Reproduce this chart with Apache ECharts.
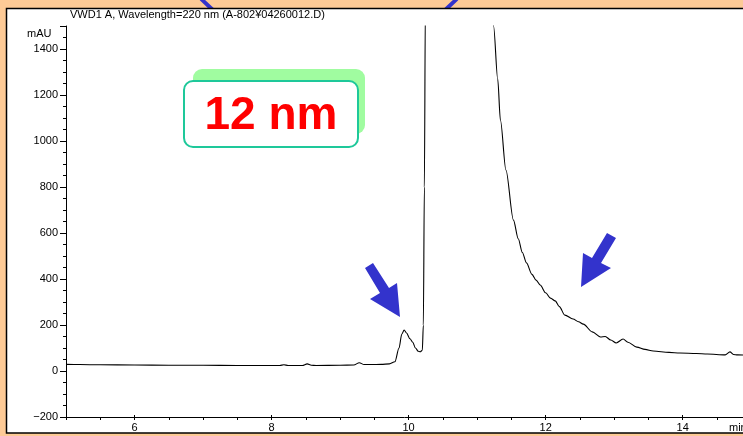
<!DOCTYPE html>
<html>
<head>
<meta charset="utf-8">
<script src="https://cdn.jsdelivr.net/npm/echarts@6/dist/echarts.min.js"></script>
<style>
  html, body { margin: 0; padding: 0; background: #fdca96; }
  #chart { width: 743px; height: 436px; }
</style>
</head>
<body>
<div id="chart"></div>
<script>
// Retention time (min) and detector signal (mAU) of the chromatogram trace
const retentionTime = [
  5.0, 5.2, 5.5, 6.0, 6.5, 7.0, 7.5, 8.0, 8.12, 8.18, 8.24, 8.45, 8.52, 8.58, 8.65,
  9.0, 9.2, 9.28, 9.35, 9.45, 9.6, 9.72, 9.8, 9.86, 9.9, 9.935, 9.97, 10.02, 10.06,
  10.1, 10.14, 10.17, 10.2, 10.215, 10.23, 10.245, 10.27, 10.4, 10.7, 11.0, 11.1,
  11.2, 11.24, 11.3, 11.34, 11.42, 11.53, 11.6, 11.66, 11.72, 11.8, 11.86, 11.92,
  12.0, 12.07, 12.14, 12.2, 12.28, 12.4, 12.48, 12.55, 12.68, 12.8, 12.87, 12.95,
  13.03, 13.13, 13.2, 13.33, 13.45, 13.57, 13.8, 13.96, 14.2, 14.36, 14.62, 14.69,
  14.74, 14.8, 15.0
];
const signal = [
  29, 28, 27, 26, 25, 25, 24, 24, 24, 27, 24, 24, 31, 25, 24,
  25, 26, 36, 28, 28, 29, 31, 40, 100, 160, 178, 165, 140, 125,
  100, 86, 84, 90, 200, 800, 1600, 2300, 2900, 3000, 2500, 2100,
  1700, 1500, 1270, 1090, 874, 656, 575, 515, 470, 420, 395, 374,
  340, 317, 305, 280, 243, 226, 214, 204, 170, 148, 150, 135,
  122, 139, 125, 104, 94, 87, 81, 78, 76, 74, 70, 83,
  72, 70, 69
];

// Axis ticks and labels
const xLabelValues = [6, 8, 10, 12, 14];
const yLabelValues = [-200, 0, 200, 400, 600, 800, 1000, 1200, 1400];
const yMajorTicks = [-200, 0, 200, 400, 600, 800, 1000, 1200, 1400, 1500];

const titleText = 'VWD1 A, Wavelength=220 nm (A-802\u00a504260012.D)';
const yUnit = 'mAU';
const xUnit = 'min';
const calloutText = '12 nm';

const FONT = '"Liberation Sans", Arial, sans-serif';
// the time axis runs on past the right edge of the page
const X_MIN = 5, X_MAX = 14.88, Y_MIN = -200, Y_MAX = 1500;

const chart = echarts.init(document.getElementById('chart'), null, { renderer: 'canvas' });

const points = retentionTime.map((t, i) => [t, signal[i]]);

const axisText = { color: '#000', fontSize: 11, fontFamily: FONT };
const plainNumber = v => String(v).replace('-', '\u2212');

const option = {
  backgroundColor: '#fdca96',
  animation: false,
  grid: { left: 66, right: 0, top: 26, bottom: 19, containLabel: false },
  xAxis: [
    {
      type: 'value', min: X_MIN, max: X_MAX, interval: 0.5,
      position: 'bottom',
      axisLine: { show: true, onZero: false, lineStyle: { color: '#000', width: 1 } },
      axisTick: { show: true, length: 3, lineStyle: { color: '#000' } },
      axisLabel: { ...axisText, margin: 5, customValues: xLabelValues, formatter: plainNumber },
      splitLine: { show: false }
    },
    {
      type: 'value', min: X_MIN, max: X_MAX,
      position: 'bottom',
      axisLine: { show: false, onZero: false },
      axisTick: { show: true, inside: true, length: 2, customValues: xLabelValues, lineStyle: { color: '#000' } },
      axisLabel: { show: false },
      splitLine: { show: false }
    }
  ],
  yAxis: [
    {
      type: 'value', min: Y_MIN, max: Y_MAX, interval: 50,
      position: 'left',
      axisLine: { show: true, onZero: false, lineStyle: { color: '#000', width: 1 } },
      axisTick: { show: true, length: 3, lineStyle: { color: '#000' } },
      axisLabel: { ...axisText, margin: 8, customValues: yLabelValues, formatter: plainNumber },
      splitLine: { show: false }
    },
    {
      type: 'value', min: Y_MIN, max: Y_MAX,
      position: 'left',
      axisLine: { show: false, onZero: false },
      axisTick: { show: true, length: 6, customValues: yMajorTicks, lineStyle: { color: '#000' } },
      axisLabel: { show: false },
      splitLine: { show: false }
    }
  ],
  series: [
    {
      type: 'line',
      xAxisIndex: 0, yAxisIndex: 0,
      data: points,
      showSymbol: false,
      smooth: 0.3,
      smoothMonotone: 'x',
      clip: true,
      lineStyle: { color: '#000', width: 1.1 },
      z: 3
    }
  ],
  graphic: [
    // blue outline peeking above the plot frame
    {
      type: 'ellipse', z: -3, silent: true,
      shape: { cx: 329, cy: -135, rx: 180, ry: 190 },
      style: { fill: 'none', stroke: '#3333cc', lineWidth: 4 }
    },
    // white plot panel with frame
    {
      type: 'rect', z: -2, silent: true,
      shape: { x: 6.5, y: 8.5, width: 745, height: 424.5 },
      style: { fill: '#fff', stroke: '#000', lineWidth: 1.5 }
    },
    {
      type: 'text', z: 5, silent: true,
      style: { text: titleText, x: 70, y: 15, font: '11px ' + FONT, fill: '#000', textVerticalAlign: 'middle' }
    },
    {
      type: 'text', z: 5, silent: true,
      style: { text: yUnit, x: 27, y: 34, font: '11px ' + FONT, fill: '#000', textVerticalAlign: 'middle' }
    },
    {
      type: 'text', z: 5, silent: true,
      style: { text: xUnit, x: 729, y: 428, font: '11px ' + FONT, fill: '#000', textVerticalAlign: 'middle' }
    },
    // callout box
    {
      type: 'rect', z: 8, silent: true,
      shape: { x: 193, y: 69, width: 172, height: 65, r: 9 },
      style: { fill: '#a0fca0' }
    },
    {
      type: 'rect', z: 9, silent: true,
      shape: { x: 184, y: 81, width: 174, height: 66, r: 9 },
      style: { fill: '#fff', stroke: '#1ec89a', lineWidth: 2 }
    },
    {
      type: 'text', z: 10, silent: true,
      style: {
        text: calloutText, x: 271, y: 116, font: 'bold 46px ' + FONT, fill: '#ff0000',
        textAlign: 'center', textVerticalAlign: 'middle'
      }
    },
    // arrows
    {
      type: 'polygon', z: 10, silent: true,
      shape: { points: [[365, 268], [373, 263], [389, 288], [397, 283], [400, 317], [370, 299], [380, 293]] },
      style: { fill: '#3333cc' }
    },
    {
      type: 'polygon', z: 10, silent: true,
      shape: { points: [[607, 233], [616, 238], [601, 263], [611, 268], [581, 287], [583, 253], [592, 258]] },
      style: { fill: '#3333cc' }
    }
  ]
};

chart.setOption(option);
</script>
</body>
</html>
